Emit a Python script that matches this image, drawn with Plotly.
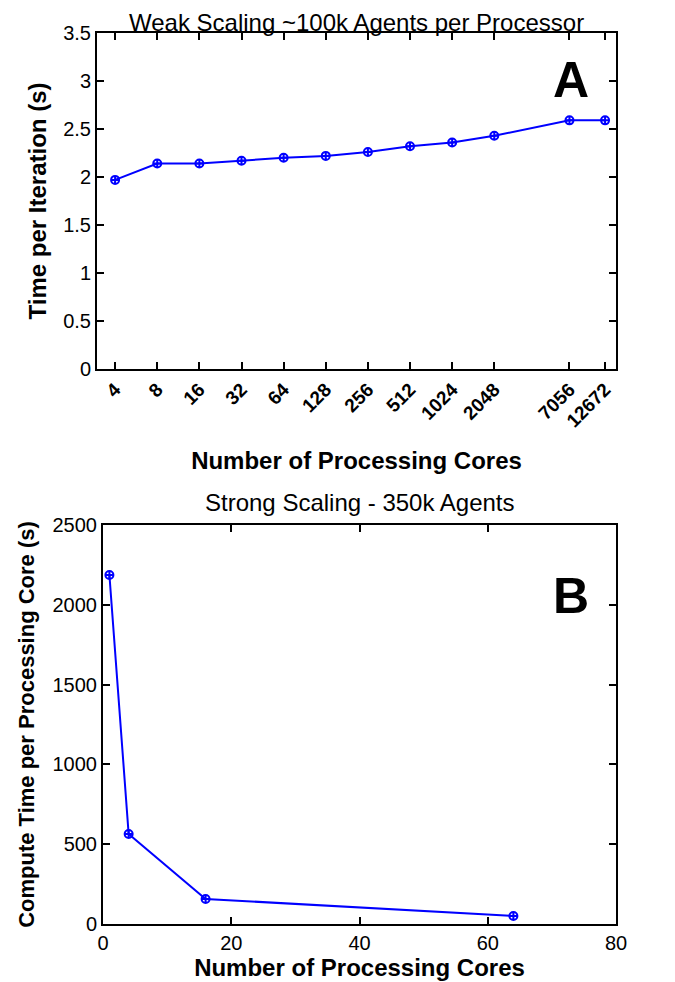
import plotly.graph_objects as go

# Panel A: weak scaling
weak_cores = [4, 8, 16, 32, 64, 128, 256, 512, 1024, 2048, 7056, 12672]
weak_time = [1.97, 2.14, 2.14, 2.17, 2.20, 2.22, 2.26, 2.32, 2.36, 2.43, 2.59, 2.59]
weak_tick_labels = ["4", "8", "16", "32", "64", "128", "256", "512", "1024", "2048", "7056", "12672"]
weak_y_ticks = [0, 0.5, 1, 1.5, 2, 2.5, 3, 3.5]

# Panel B: strong scaling
strong_cores = [1, 4, 16, 64]
strong_time = [2187, 564, 157, 50]
strong_x_ticks = [0, 20, 40, 60, 80]
strong_y_ticks = [0, 500, 1000, 1500, 2000, 2500]

BLUE = "#0000FF"
FONT = "Liberation Sans, Arial, sans-serif"
W, H = 675, 982

fig = go.Figure()
fig.add_trace(go.Scatter(
    x=weak_cores, y=weak_time, mode="lines+markers", xaxis="x", yaxis="y",
    line=dict(color=BLUE, width=2),
    marker=dict(symbol="circle-cross-open", size=8, color=BLUE, line=dict(width=2, color=BLUE)),
    showlegend=False))
fig.add_trace(go.Scatter(
    x=strong_cores, y=strong_time, mode="lines+markers", xaxis="x2", yaxis="y2",
    line=dict(color=BLUE, width=2),
    marker=dict(symbol="circle-cross-open", size=8, color=BLUE, line=dict(width=2, color=BLUE)),
    showlegend=False))

axis_common = dict(showline=True, linecolor="black", linewidth=2, mirror="ticks",
                   ticks="inside", ticklen=7, tickwidth=2, tickcolor="black",
                   showgrid=False, zeroline=False, automargin=False)

fig.update_layout(
    width=W, height=H, margin=dict(l=0, r=0, t=0, b=0),
    paper_bgcolor="white", plot_bgcolor="white",
    font=dict(family=FONT, color="black"),
    xaxis=dict(domain=[89 / W, 608 / W], anchor="y", type="log",
               range=[0.4727, 4.181], tickvals=weak_cores, ticktext=weak_tick_labels,
               tickangle=-45, tickfont=dict(size=19, family=FONT, weight="bold"),
               title=dict(text="<b>Number of Processing Cores</b>", font=dict(size=24), standoff=22),
               **axis_common),
    yaxis=dict(domain=[1 - 361 / H, 1 - 25 / H], anchor="x", range=[0, 3.5],
               tickvals=weak_y_ticks, ticktext=["0", "0.5", "1", "1.5", "2", "2.5", "3", "3.5"],
               tickfont=dict(size=20),
               title=dict(text="<b>Time per Iteration (s)</b>", font=dict(size=24), standoff=10),
               **axis_common),
    xaxis2=dict(domain=[95 / W, 608 / W], anchor="y2", range=[0, 80],
                tickvals=strong_x_ticks, tickfont=dict(size=20),
                title=dict(text="<b>Number of Processing Cores</b>", font=dict(size=24), standoff=2),
                **axis_common),
    yaxis2=dict(domain=[1 - 916 / H, 1 - 517 / H], anchor="x2", range=[0, 2500],
                tickvals=strong_y_ticks, tickfont=dict(size=20),
                title=dict(text="<b>Compute Time per Processing Core (s)</b>", font=dict(size=22), standoff=12),
                **axis_common),
    annotations=[
        dict(text="Weak Scaling ~100k Agents per Processor", x=(89 + 608) / 2 / W, y=1,
             xref="paper", yref="paper", showarrow=False, font=dict(size=24),
             xanchor="center", yanchor="top", borderpad=0),
        dict(text="Strong Scaling - 350k Agents", x=(95 + 608) / 2 / W, y=1 - 495 / H,
             xref="paper", yref="paper", showarrow=False, font=dict(size=24),
             xanchor="center", yanchor="middle"),
        dict(text="<b>A</b>", x=563 / W, y=1 - 72 / H, xref="paper", yref="paper",
             showarrow=False, font=dict(size=50), xanchor="center", yanchor="middle"),
        dict(text="<b>B</b>", x=563 / W, y=1 - 588 / H, xref="paper", yref="paper",
             showarrow=False, font=dict(size=50), xanchor="center", yanchor="middle"),
    ],
)

fig.write_html("out.html")
